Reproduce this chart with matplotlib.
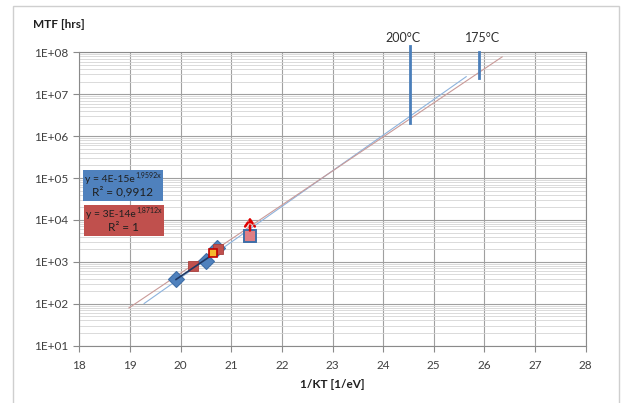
import numpy as np
import matplotlib
matplotlib.use("Agg")
import matplotlib.pyplot as plt
from matplotlib.patches import Rectangle
from matplotlib.ticker import FixedLocator, FuncFormatter, LogLocator, NullFormatter

plt.rcParams['font.family'] = ['Lato', 'DejaVu Sans']
plt.rcParams['mathtext.default'] = 'regular'

# ---- data ----
blue_x = [19.91, 20.51, 20.72]
blue_y = [380, 1070, 2130]
red_x = [20.25, 20.74]
red_y = [810, 2050]
yellow_x = [20.64]
yellow_y = [1630]
open_x = [21.37]
open_y = [4070]
arrow_y = [5600, 11500]
dark_x = [19.91, 20.62]
dark_y = [380, 1450]

blue_fit_a, blue_fit_b = 4e-15, 1.9592
blue_fit_range = [19.28, 25.64]
red_fit_a, red_fit_b = 3e-14, 1.8712
red_fit_range = [18.98, 26.35]

temp_labels = ['200°C', '175°C']
temp_x = [24.54, 25.90]
temp_label_x = [24.39, 25.96]
temp_ylow = [2.1e6, 2.4e7]
temp_yhigh = [1.45e8, 1.02e8]

x_ticks = list(range(18, 29))
blue_eq = ["y = 4E-15e", "1,9592x", "R² = 0,9912"]
red_eq = ["y = 3E-14e", "1,8712x", "R² = 1"]

W, H = 624, 403
fig = plt.figure(figsize=(W / 100, H / 100), dpi=100)
ax = fig.add_axes([79.3 / W, 1 - 345.7 / H, (585.7 - 79.3) / W, (345.7 - 52.3) / H])

# outer frame
fig.add_artist(Rectangle((12.5 / W, -0.01), (619 - 12.5) / W, 1 - 6.5 / H + 0.01,
                         transform=fig.transFigure, fill=False, ec='#cfcfcf', lw=1.0))

ax.set_yscale('log')
ax.set_xlim(18, 28)
ax.set_ylim(10, 1e8)
ax.xaxis.set_major_locator(FixedLocator(x_ticks))
ax.yaxis.set_major_locator(LogLocator(base=10, numticks=20))
ax.yaxis.set_minor_locator(LogLocator(base=10, subs=np.arange(2, 10), numticks=100))
ax.yaxis.set_minor_formatter(NullFormatter())
ax.yaxis.set_major_formatter(FuncFormatter(lambda v, p: f"1E+{int(round(np.log10(v))):02d}"))

ax.grid(True, which='major', axis='both', color='#a0a0a0', lw=0.8)
ax.grid(True, which='minor', axis='y', color='#d4d4d4', lw=0.6)
ax.set_axisbelow(True)
for s in ax.spines.values():
    s.set_color('#8a8a8a')
    s.set_linewidth(0.8)
ax.tick_params(which='major', direction='out', length=4, color='#8a8a8a',
               labelsize=8.5, labelcolor='#404040', pad=4)
ax.tick_params(which='minor', length=0)
ax.tick_params(axis='x', pad=6)

# trend lines
bx = np.array(blue_fit_range)
ax.plot(bx, blue_fit_a * np.exp(blue_fit_b * bx), color='#8db3dd', lw=0.8, zorder=3)
rx = np.array(red_fit_range)
ax.plot(rx, red_fit_a * np.exp(red_fit_b * rx), color='#c99a98', lw=0.8, zorder=3)

# data
ax.plot(blue_x, blue_y, linestyle='none', marker='D', ms=8, mfc='#4f81bd', mec='#3f6fa8',
        mew=0.8, zorder=4)
ax.plot(red_x, red_y, linestyle='none', marker='s', ms=6.5, mfc='#c0504d', mec='#a8403d',
        mew=0.6, zorder=4)
ax.plot(dark_x, dark_y, color='#1f3864', lw=1.2, zorder=5)
ax.plot(yellow_x, yellow_y, linestyle='none', marker='s', ms=6, mfc='#f5b92d', mec='#c00000',
        mew=1.2, zorder=6)
ax.plot(open_x, open_y, linestyle='none', marker='s', ms=8, mfc='#e07f85', mec='#3f6fa8',
        mew=1.4, zorder=6)
ax.annotate('', xy=(open_x[0], arrow_y[1]), xytext=(open_x[0], arrow_y[0]),
            arrowprops=dict(arrowstyle='->,head_length=0.5,head_width=0.35', color='#e00000',
                            lw=1.8, linestyle=(0, (2, 1.2)), shrinkA=0, shrinkB=0,
                            mutation_scale=10), zorder=7)

# temperature markers
for lab, tx, lx, lo, hi in zip(temp_labels, temp_x, temp_label_x, temp_ylow, temp_yhigh):
    ax.plot([tx, tx], [lo, hi], color='#4a7eba', lw=2, clip_on=False, zorder=5)
    ax.text(lx, 10 ** (8 + 14.6 / 41.9), lab, ha='center', va='center', fontsize=9,
            color='#303030')

# equation boxes
fig.canvas.draw()
renderer = fig.canvas.get_renderer()

def eq_box(x0, y0, x1, y1, color, lines):
    fig.add_artist(Rectangle((x0 / W, 1 - y1 / H), (x1 - x0) / W, (y1 - y0) / H,
                             transform=fig.transFigure, fc=color, ec='none', zorder=7))
    h = (y1 - y0)
    yb = 1 - (y0 + h * 0.3) / H
    t_main = fig.text(0, yb, lines[0], ha='left', va='center', fontsize=7.5,
                      color='#202020', zorder=8)
    t_sup = fig.text(0, yb + 3.5 / H, lines[1], ha='left', va='center', fontsize=5,
                     color='#202020', zorder=8)
    w_main = t_main.get_window_extent(renderer).width
    w_sup = t_sup.get_window_extent(renderer).width
    start = (x0 + x1) / 2 - (w_main + w_sup) / 2
    t_main.set_x(start / W)
    t_sup.set_x((start + w_main + 0.5) / W)
    fig.text((x0 + x1) / 2 / W, 1 - (y0 + h * 0.72) / H, lines[2], ha='center', va='center',
             fontsize=8.5, color='#202020', zorder=8)

eq_box(83.3, 170, 162.7, 200.7, '#4f81bd', blue_eq)
eq_box(84, 205, 164, 236, '#c0504d', red_eq)

# axis titles
fig.text(33 / W, 1 - 25 / H, 'MTF [hrs]', fontsize=8.5, fontweight='bold', color='#202020',
         ha='left', va='center')
fig.text(332.5 / W, 1 - 384 / H, '1/KT [1/eV]', fontsize=8.5, fontweight='bold',
         color='#202020', ha='center', va='center')

fig.savefig('out.png', dpi=100)
